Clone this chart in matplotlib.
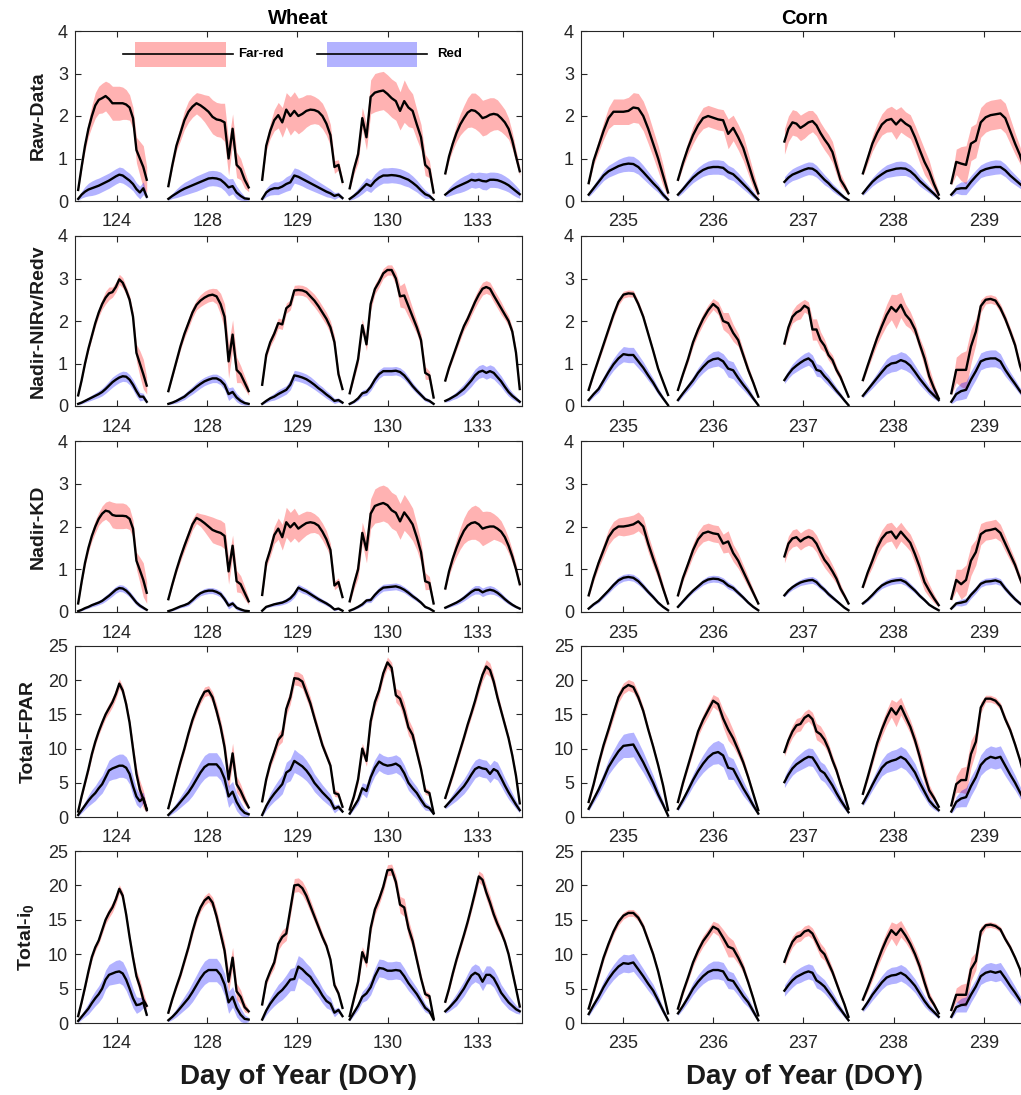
import numpy as np
import matplotlib
matplotlib.use('Agg')
import matplotlib.pyplot as plt
from matplotlib.patches import Rectangle
from matplotlib.lines import Line2D

plt.rcParams['font.family'] = ['Liberation Sans', 'DejaVu Sans']
plt.rcParams['mathtext.fontset'] = 'custom'
plt.rcParams['mathtext.rm'] = 'Liberation Sans'
plt.rcParams['mathtext.bf'] = 'Liberation Sans:bold'

# ---------------- categories / ticks ----------------
WHEAT_DAYS = ['124', '128', '129', '130', '133']
CORN_DAYS = ['235', '236', '237', '238', '239']
# time span covered by each day's record (fraction of a day around the tick)
WHEAT_SPAN = [(-0.43, 0.33), (-0.43, 0.46), (-0.39, 0.50), (-0.42, 0.51), (-0.36, 0.465)]
CORN_SPAN = [(-0.38, 0.50), (-0.39, 0.50), (-0.21, 0.50), (-0.34, 0.50), (-0.36, 0.51)]
YLABELS = ['Raw-Data', 'Nadir-NIRv/Redv', 'Nadir-KD', 'Total-FPAR', r'Total-i$_\mathbf{0}$']
YMAX = [4, 4, 4, 25, 25]
YSTEP = [1, 1, 1, 5, 5]

# ---------------- Wheat: Raw-Data ----------------
W_RAW_FR = [
    [0.26, 0.80, 1.30, 1.70, 2.00, 2.25, 2.38, 2.42, 2.47, 2.40, 2.30, 2.30, 2.30, 2.30, 2.27, 2.20, 1.95, 1.20, 1.00, 0.80, 0.50],
    [0.35, 0.85, 1.30, 1.60, 1.90, 2.10, 2.22, 2.30, 2.25, 2.18, 2.10, 1.98, 1.92, 1.90, 1.85, 1.00, 1.70, 0.85, 0.75, 0.50, 0.32],
    [0.50, 1.30, 1.65, 1.90, 2.02, 1.85, 2.15, 2.00, 2.12, 2.00, 2.05, 2.12, 2.15, 2.14, 2.10, 2.00, 1.82, 1.55, 0.80, 0.85, 0.45],
    [0.30, 0.75, 1.10, 1.95, 1.50, 2.45, 2.55, 2.58, 2.60, 2.52, 2.42, 2.35, 2.12, 2.35, 2.20, 2.12, 1.80, 1.50, 0.85, 0.75, 0.20],
    [0.65, 1.05, 1.35, 1.60, 1.80, 1.95, 2.08, 2.14, 2.12, 2.05, 1.95, 1.98, 2.03, 2.05, 2.03, 1.95, 1.85, 1.70, 1.42, 1.05, 0.70],
]
W_RAW_FR_SD = [
    [0.03, 0.08, 0.12, 0.18, 0.25, 0.30, 0.32, 0.35, 0.35, 0.38, 0.40, 0.40, 0.40, 0.38, 0.35, 0.30, 0.25, 0.30, 0.40, 0.50, 0.30],
    [0.03, 0.08, 0.12, 0.18, 0.22, 0.25, 0.25, 0.25, 0.28, 0.32, 0.38, 0.40, 0.40, 0.40, 0.45, 0.40, 0.35, 0.30, 0.25, 0.20, 0.10],
    [0.05, 0.12, 0.18, 0.25, 0.30, 0.35, 0.40, 0.45, 0.45, 0.42, 0.40, 0.38, 0.35, 0.32, 0.30, 0.30, 0.28, 0.25, 0.15, 0.12, 0.08],
    [0.05, 0.12, 0.20, 0.25, 0.30, 0.40, 0.45, 0.45, 0.45, 0.45, 0.45, 0.45, 0.45, 0.50, 0.45, 0.40, 0.35, 0.30, 0.25, 0.20, 0.10],
    [0.05, 0.10, 0.15, 0.20, 0.25, 0.30, 0.35, 0.40, 0.42, 0.42, 0.42, 0.42, 0.40, 0.38, 0.35, 0.32, 0.30, 0.25, 0.20, 0.15, 0.10],
]
W_RAW_R = [
    [0.05, 0.15, 0.22, 0.27, 0.30, 0.33, 0.36, 0.40, 0.44, 0.48, 0.53, 0.58, 0.62, 0.60, 0.54, 0.48, 0.40, 0.28, 0.20, 0.30, 0.10],
    [0.05, 0.12, 0.18, 0.24, 0.29, 0.33, 0.37, 0.41, 0.45, 0.49, 0.53, 0.54, 0.53, 0.50, 0.42, 0.32, 0.35, 0.20, 0.12, 0.06, 0.05],
    [0.05, 0.20, 0.27, 0.30, 0.30, 0.34, 0.40, 0.44, 0.60, 0.57, 0.52, 0.47, 0.42, 0.37, 0.32, 0.27, 0.22, 0.18, 0.12, 0.15, 0.07],
    [0.05, 0.12, 0.20, 0.30, 0.40, 0.35, 0.47, 0.55, 0.60, 0.60, 0.61, 0.60, 0.58, 0.54, 0.50, 0.43, 0.35, 0.25, 0.16, 0.12, 0.03],
    [0.15, 0.22, 0.28, 0.33, 0.37, 0.41, 0.45, 0.50, 0.48, 0.50, 0.47, 0.46, 0.50, 0.50, 0.49, 0.46, 0.42, 0.37, 0.30, 0.23, 0.16],
]
W_RAW_R_SD = [
    [0.03, 0.08, 0.12, 0.15, 0.17, 0.18, 0.18, 0.18, 0.18, 0.18, 0.18, 0.18, 0.18, 0.18, 0.17, 0.17, 0.16, 0.15, 0.15, 0.15, 0.05],
    [0.03, 0.06, 0.10, 0.13, 0.15, 0.16, 0.17, 0.18, 0.18, 0.18, 0.18, 0.18, 0.18, 0.18, 0.18, 0.20, 0.18, 0.15, 0.10, 0.05, 0.03],
    [0.03, 0.10, 0.13, 0.15, 0.15, 0.15, 0.17, 0.18, 0.18, 0.18, 0.17, 0.17, 0.16, 0.15, 0.14, 0.13, 0.12, 0.10, 0.08, 0.06, 0.04],
    [0.03, 0.07, 0.10, 0.13, 0.15, 0.15, 0.17, 0.18, 0.18, 0.18, 0.18, 0.18, 0.18, 0.18, 0.17, 0.16, 0.14, 0.12, 0.10, 0.06, 0.03],
    [0.05, 0.10, 0.13, 0.15, 0.17, 0.18, 0.18, 0.18, 0.18, 0.18, 0.20, 0.20, 0.18, 0.18, 0.18, 0.18, 0.17, 0.16, 0.15, 0.13, 0.10],
]

# ---------------- Wheat: Nadir-NIRv/Redv ----------------
W_NIR_FR = [
    [0.25, 0.60, 1.00, 1.35, 1.65, 1.95, 2.20, 2.40, 2.55, 2.65, 2.68, 2.80, 2.98, 2.90, 2.72, 2.50, 2.10, 1.25, 1.00, 0.75, 0.48],
    [0.35, 0.70, 1.05, 1.40, 1.70, 1.95, 2.20, 2.38, 2.48, 2.55, 2.60, 2.62, 2.58, 2.40, 2.10, 1.05, 1.68, 0.85, 0.75, 0.55, 0.35],
    [0.50, 1.20, 1.50, 1.70, 1.95, 1.92, 2.30, 2.38, 2.72, 2.73, 2.72, 2.68, 2.58, 2.48, 2.35, 2.20, 2.05, 1.85, 1.50, 0.75, 0.40],
    [0.30, 0.70, 1.10, 1.90, 1.45, 2.40, 2.75, 2.92, 3.12, 3.20, 3.20, 3.00, 2.58, 2.60, 2.35, 2.10, 1.85, 1.55, 0.78, 0.72, 0.20],
    [0.60, 0.90, 1.15, 1.40, 1.65, 1.88, 2.05, 2.25, 2.45, 2.62, 2.76, 2.80, 2.76, 2.60, 2.45, 2.30, 2.15, 2.00, 1.75, 1.25, 0.40],
]
W_NIR_FR_SD = [
    [0.02, 0.03, 0.05, 0.06, 0.07, 0.08, 0.10, 0.12, 0.15, 0.15, 0.12, 0.12, 0.12, 0.12, 0.10, 0.10, 0.12, 0.20, 0.30, 0.35, 0.20],
    [0.02, 0.04, 0.06, 0.08, 0.10, 0.12, 0.12, 0.12, 0.14, 0.15, 0.15, 0.15, 0.18, 0.25, 0.30, 0.40, 0.35, 0.30, 0.20, 0.15, 0.10],
    [0.03, 0.08, 0.10, 0.12, 0.12, 0.12, 0.12, 0.12, 0.12, 0.12, 0.12, 0.12, 0.14, 0.15, 0.15, 0.15, 0.15, 0.15, 0.15, 0.10, 0.05],
    [0.03, 0.08, 0.12, 0.15, 0.15, 0.15, 0.12, 0.12, 0.12, 0.12, 0.12, 0.15, 0.25, 0.30, 0.25, 0.20, 0.15, 0.15, 0.15, 0.10, 0.05],
    [0.03, 0.05, 0.07, 0.08, 0.10, 0.10, 0.12, 0.12, 0.14, 0.15, 0.15, 0.15, 0.15, 0.15, 0.15, 0.15, 0.12, 0.12, 0.10, 0.10, 0.05],
]
W_NIR_R = [
    [0.05, 0.08, 0.12, 0.16, 0.20, 0.24, 0.28, 0.33, 0.40, 0.48, 0.56, 0.62, 0.67, 0.70, 0.69, 0.62, 0.50, 0.35, 0.22, 0.22, 0.10],
    [0.05, 0.08, 0.12, 0.17, 0.22, 0.30, 0.37, 0.45, 0.52, 0.58, 0.62, 0.65, 0.65, 0.60, 0.50, 0.28, 0.33, 0.20, 0.12, 0.07, 0.05],
    [0.05, 0.12, 0.18, 0.22, 0.28, 0.33, 0.38, 0.50, 0.72, 0.70, 0.67, 0.63, 0.57, 0.50, 0.42, 0.35, 0.27, 0.20, 0.12, 0.14, 0.08],
    [0.05, 0.10, 0.18, 0.30, 0.33, 0.45, 0.62, 0.75, 0.82, 0.82, 0.82, 0.83, 0.80, 0.72, 0.60, 0.47, 0.36, 0.26, 0.16, 0.12, 0.05],
    [0.12, 0.16, 0.21, 0.26, 0.33, 0.40, 0.50, 0.60, 0.72, 0.80, 0.83, 0.78, 0.82, 0.78, 0.68, 0.58, 0.45, 0.33, 0.24, 0.17, 0.10],
]
W_NIR_R_SD = [
    [0.02, 0.03, 0.04, 0.05, 0.06, 0.07, 0.08, 0.09, 0.10, 0.11, 0.12, 0.12, 0.12, 0.12, 0.12, 0.12, 0.12, 0.12, 0.10, 0.08, 0.04],
    [0.02, 0.03, 0.05, 0.06, 0.07, 0.08, 0.09, 0.10, 0.10, 0.10, 0.10, 0.10, 0.10, 0.10, 0.12, 0.15, 0.12, 0.10, 0.08, 0.05, 0.03],
    [0.02, 0.04, 0.06, 0.08, 0.10, 0.10, 0.10, 0.12, 0.12, 0.12, 0.12, 0.12, 0.12, 0.11, 0.10, 0.10, 0.09, 0.08, 0.06, 0.05, 0.03],
    [0.02, 0.03, 0.05, 0.07, 0.08, 0.09, 0.10, 0.10, 0.10, 0.10, 0.10, 0.10, 0.10, 0.10, 0.09, 0.08, 0.07, 0.06, 0.05, 0.04, 0.02],
    [0.03, 0.05, 0.06, 0.08, 0.10, 0.12, 0.13, 0.14, 0.15, 0.15, 0.15, 0.15, 0.15, 0.15, 0.14, 0.13, 0.12, 0.10, 0.08, 0.06, 0.04],
]

# ---------------- Wheat: Nadir-KD ----------------
W_KD_FR = [
    [0.20, 0.70, 1.15, 1.50, 1.78, 2.00, 2.18, 2.30, 2.37, 2.35, 2.27, 2.25, 2.25, 2.25, 2.24, 2.18, 1.95, 1.20, 0.98, 0.75, 0.45],
    [0.30, 0.65, 0.98, 1.28, 1.55, 1.80, 2.05, 2.20, 2.15, 2.08, 2.00, 1.92, 1.88, 1.85, 1.78, 0.95, 1.55, 0.72, 0.65, 0.45, 0.25],
    [0.40, 1.15, 1.45, 1.80, 1.95, 1.75, 2.10, 1.98, 2.08, 1.95, 2.02, 2.08, 2.10, 2.08, 2.02, 1.88, 1.70, 1.45, 0.62, 0.70, 0.35],
    [0.25, 0.65, 1.00, 1.85, 1.45, 2.30, 2.48, 2.52, 2.55, 2.50, 2.38, 2.32, 2.12, 2.33, 2.20, 2.05, 1.75, 1.40, 0.72, 0.68, 0.20],
    [0.55, 0.95, 1.25, 1.50, 1.72, 1.90, 2.02, 2.08, 2.10, 2.05, 1.95, 1.98, 2.00, 2.00, 1.95, 1.88, 1.75, 1.55, 1.30, 1.00, 0.65],
]
W_KD_FR_SD = [
    [0.03, 0.06, 0.08, 0.10, 0.12, 0.15, 0.15, 0.18, 0.20, 0.25, 0.30, 0.30, 0.30, 0.30, 0.28, 0.25, 0.20, 0.20, 0.30, 0.40, 0.25],
    [0.02, 0.05, 0.07, 0.10, 0.12, 0.13, 0.13, 0.13, 0.15, 0.20, 0.25, 0.30, 0.30, 0.30, 0.30, 0.30, 0.25, 0.25, 0.20, 0.15, 0.08],
    [0.05, 0.10, 0.15, 0.20, 0.25, 0.30, 0.35, 0.35, 0.35, 0.32, 0.30, 0.28, 0.25, 0.22, 0.20, 0.20, 0.20, 0.15, 0.10, 0.10, 0.05],
    [0.05, 0.12, 0.20, 0.25, 0.30, 0.35, 0.40, 0.42, 0.42, 0.42, 0.42, 0.42, 0.42, 0.42, 0.40, 0.38, 0.30, 0.25, 0.20, 0.15, 0.05],
    [0.05, 0.10, 0.15, 0.20, 0.25, 0.30, 0.35, 0.38, 0.40, 0.40, 0.40, 0.38, 0.35, 0.30, 0.28, 0.25, 0.20, 0.18, 0.15, 0.12, 0.08],
]
W_KD_R = [
    [0.02, 0.05, 0.09, 0.12, 0.16, 0.19, 0.22, 0.26, 0.32, 0.38, 0.45, 0.52, 0.56, 0.55, 0.50, 0.42, 0.32, 0.22, 0.15, 0.10, 0.05],
    [0.02, 0.05, 0.09, 0.13, 0.16, 0.20, 0.28, 0.37, 0.44, 0.48, 0.50, 0.50, 0.47, 0.42, 0.30, 0.15, 0.20, 0.10, 0.06, 0.03, 0.02],
    [0.03, 0.12, 0.15, 0.18, 0.20, 0.22, 0.26, 0.32, 0.42, 0.57, 0.52, 0.48, 0.42, 0.36, 0.30, 0.25, 0.20, 0.14, 0.06, 0.08, 0.03],
    [0.03, 0.07, 0.12, 0.18, 0.27, 0.28, 0.40, 0.50, 0.57, 0.58, 0.59, 0.60, 0.57, 0.52, 0.45, 0.37, 0.30, 0.22, 0.12, 0.08, 0.02],
    [0.10, 0.14, 0.18, 0.22, 0.27, 0.33, 0.40, 0.47, 0.52, 0.52, 0.46, 0.50, 0.52, 0.50, 0.45, 0.38, 0.30, 0.23, 0.17, 0.12, 0.08],
]
W_KD_R_SD = [
    [0.01, 0.02, 0.03, 0.03, 0.04, 0.05, 0.05, 0.06, 0.07, 0.07, 0.08, 0.08, 0.08, 0.08, 0.08, 0.07, 0.07, 0.06, 0.05, 0.04, 0.02],
    [0.01, 0.02, 0.03, 0.03, 0.04, 0.05, 0.05, 0.06, 0.06, 0.07, 0.07, 0.07, 0.07, 0.07, 0.07, 0.08, 0.06, 0.05, 0.04, 0.02, 0.01],
    [0.01, 0.02, 0.03, 0.04, 0.05, 0.05, 0.06, 0.07, 0.08, 0.08, 0.08, 0.07, 0.07, 0.06, 0.06, 0.05, 0.05, 0.04, 0.03, 0.02, 0.01],
    [0.01, 0.02, 0.03, 0.04, 0.05, 0.06, 0.07, 0.08, 0.08, 0.08, 0.08, 0.08, 0.08, 0.07, 0.07, 0.06, 0.05, 0.04, 0.03, 0.02, 0.01],
    [0.02, 0.03, 0.04, 0.05, 0.06, 0.07, 0.08, 0.09, 0.10, 0.10, 0.10, 0.10, 0.10, 0.09, 0.08, 0.07, 0.06, 0.05, 0.04, 0.03, 0.02],
]

# ---------------- Wheat: Total-FPAR ----------------
W_FPAR_FR = [
    [0.8, 3.0, 5.0, 7.0, 9.2, 11.0, 12.5, 13.8, 15.0, 15.9, 16.8, 18.0, 19.5, 18.5, 16.5, 13.8, 10.0, 6.3, 4.0, 2.6, 1.2],
    [1.3, 3.5, 5.8, 8.0, 10.0, 12.2, 14.2, 15.8, 17.2, 18.3, 18.5, 17.5, 15.5, 13.2, 10.2, 5.5, 9.3, 4.8, 3.8, 2.5, 1.4],
    [2.3, 5.5, 7.8, 9.5, 11.3, 12.0, 15.8, 17.5, 20.3, 20.2, 19.8, 18.2, 16.6, 14.5, 12.5, 10.5, 9.0, 7.5, 3.5, 3.3, 1.5],
    [1.1, 3.0, 5.5, 10.0, 8.2, 14.0, 16.8, 18.5, 21.0, 22.6, 21.8, 17.8, 17.3, 15.5, 13.1, 12.0, 9.5, 7.0, 3.8, 3.5, 0.6],
    [2.8, 4.5, 6.2, 8.0, 9.8, 11.6, 13.5, 15.2, 17.0, 19.0, 20.8, 22.0, 21.5, 19.8, 17.5, 15.5, 13.5, 11.5, 9.0, 6.0, 2.0],
]
W_FPAR_FR_SD = [
    [0.2, 0.3, 0.4, 0.5, 0.5, 0.5, 0.5, 0.6, 0.6, 0.7, 0.7, 0.7, 0.7, 0.6, 0.6, 0.6, 0.8, 1.0, 1.3, 1.3, 0.5],
    [0.2, 0.3, 0.4, 0.5, 0.5, 0.5, 0.6, 0.6, 0.6, 0.7, 0.7, 0.8, 1.0, 1.0, 1.2, 1.5, 1.5, 1.2, 1.0, 0.7, 0.3],
    [0.3, 0.5, 0.6, 0.8, 0.9, 1.0, 1.0, 1.0, 1.0, 1.0, 1.0, 1.0, 0.9, 0.8, 0.7, 0.6, 0.5, 0.5, 0.5, 0.4, 0.3],
    [0.2, 0.4, 0.6, 0.8, 0.8, 0.8, 0.8, 0.8, 0.8, 0.8, 0.8, 1.0, 1.2, 1.3, 1.2, 1.0, 0.8, 0.6, 0.5, 0.4, 0.2],
    [0.3, 0.4, 0.5, 0.5, 0.5, 0.5, 0.6, 0.6, 0.7, 0.8, 0.9, 1.0, 1.0, 0.9, 0.8, 0.6, 0.5, 0.5, 0.5, 0.4, 0.3],
]
W_FPAR_R = [
    [0.3, 1.0, 1.7, 2.4, 3.0, 3.5, 4.2, 4.8, 5.8, 6.8, 7.1, 7.3, 7.5, 7.5, 7.2, 6.3, 4.5, 3.0, 2.3, 2.8, 1.0],
    [0.3, 0.9, 1.5, 2.2, 2.9, 3.6, 4.5, 5.5, 6.5, 7.3, 7.7, 7.7, 7.7, 7.0, 5.6, 3.0, 3.7, 2.2, 1.2, 0.6, 0.4],
    [0.3, 1.6, 2.6, 3.4, 4.1, 4.8, 6.5, 6.9, 8.2, 7.8, 7.4, 6.8, 6.0, 5.0, 4.3, 3.6, 3.0, 2.4, 1.2, 1.5, 0.8],
    [0.5, 1.5, 2.5, 4.2, 3.8, 5.8, 7.2, 8.1, 7.7, 7.5, 7.6, 7.8, 7.4, 6.4, 5.0, 4.2, 3.5, 2.5, 1.6, 1.3, 0.5],
    [1.5, 2.1, 2.7, 3.3, 3.9, 4.5, 5.3, 6.2, 7.0, 7.3, 7.1, 7.0, 6.3, 7.0, 6.7, 5.7, 4.6, 3.6, 2.7, 1.8, 1.0],
]
W_FPAR_R_SD = [
    [0.2, 0.4, 0.6, 0.8, 1.0, 1.1, 1.2, 1.3, 1.4, 1.5, 1.6, 1.7, 1.7, 1.7, 1.6, 1.5, 1.4, 1.2, 1.0, 0.8, 0.3],
    [0.2, 0.4, 0.6, 0.8, 1.0, 1.2, 1.4, 1.5, 1.6, 1.7, 1.7, 1.7, 1.7, 1.6, 1.6, 1.6, 1.5, 1.3, 1.0, 0.6, 0.3],
    [0.2, 0.6, 0.9, 1.1, 1.3, 1.4, 1.5, 1.6, 1.7, 1.6, 1.6, 1.5, 1.4, 1.3, 1.2, 1.1, 1.0, 0.9, 0.6, 0.4, 0.2],
    [0.2, 0.4, 0.6, 0.8, 1.0, 1.1, 1.2, 1.3, 1.3, 1.3, 1.3, 1.3, 1.3, 1.2, 1.1, 1.0, 0.9, 0.8, 0.6, 0.4, 0.2],
    [0.3, 0.5, 0.7, 0.9, 1.0, 1.1, 1.2, 1.3, 1.3, 1.3, 1.3, 1.3, 1.3, 1.3, 1.3, 1.2, 1.1, 1.0, 0.8, 0.6, 0.4],
]

# ---------------- Wheat: Total-i0 ----------------
W_I0_FR = [
    [1.0, 3.0, 5.2, 7.5, 9.6, 11.0, 12.0, 13.5, 15.0, 16.0, 16.8, 18.0, 19.5, 18.5, 15.8, 12.5, 9.5, 6.8, 5.3, 3.4, 2.5],
    [1.5, 3.5, 5.3, 7.0, 9.0, 11.0, 13.3, 15.3, 16.8, 17.8, 18.3, 17.5, 15.5, 13.0, 10.5, 6.0, 9.5, 4.6, 3.8, 2.3, 1.7],
    [2.7, 6.0, 7.5, 8.8, 11.5, 12.5, 13.0, 16.5, 20.0, 20.1, 19.6, 18.5, 17.0, 15.5, 14.0, 12.5, 11.2, 9.2, 5.5, 4.3, 2.2],
    [1.0, 3.5, 6.0, 10.3, 8.8, 13.8, 16.5, 18.0, 19.8, 22.2, 22.3, 20.5, 17.2, 16.8, 13.8, 11.9, 9.2, 6.5, 4.2, 3.9, 0.7],
    [3.1, 5.0, 7.2, 9.2, 11.0, 12.8, 14.7, 16.8, 19.0, 21.3, 20.8, 19.0, 17.5, 15.8, 14.4, 13.2, 11.8, 10.0, 7.5, 5.0, 2.4],
]
W_I0_FR_SD = [
    [0.2, 0.3, 0.4, 0.5, 0.5, 0.5, 0.5, 0.6, 0.6, 0.7, 0.7, 0.7, 0.6, 0.6, 0.5, 0.5, 0.6, 0.8, 1.0, 1.0, 0.4],
    [0.2, 0.3, 0.4, 0.5, 0.5, 0.5, 0.6, 0.6, 0.6, 0.7, 0.7, 0.8, 1.0, 1.0, 1.2, 1.5, 1.5, 1.2, 1.0, 0.7, 0.3],
    [0.3, 0.5, 0.6, 0.8, 0.9, 1.0, 1.0, 1.0, 1.0, 1.0, 1.0, 1.0, 0.9, 0.8, 0.7, 0.6, 0.5, 0.5, 0.5, 0.4, 0.3],
    [0.2, 0.4, 0.6, 0.8, 0.8, 0.8, 0.8, 0.8, 0.8, 0.8, 0.8, 1.0, 1.2, 1.3, 1.2, 1.0, 0.8, 0.6, 0.5, 0.4, 0.2],
    [0.3, 0.4, 0.5, 0.5, 0.5, 0.5, 0.6, 0.6, 0.7, 0.8, 0.9, 1.0, 1.0, 0.9, 0.8, 0.6, 0.5, 0.5, 0.5, 0.4, 0.3],
]
W_I0_R = [
    [0.3, 0.9, 1.5, 2.1, 2.9, 3.6, 4.2, 5.0, 6.3, 7.0, 7.2, 7.4, 7.5, 7.2, 6.3, 5.0, 3.6, 2.6, 2.7, 3.0, 1.2],
    [0.4, 0.9, 1.5, 2.2, 2.9, 3.6, 4.5, 5.5, 6.5, 7.3, 7.7, 7.7, 7.7, 7.0, 5.6, 3.0, 3.8, 2.2, 1.2, 0.6, 0.5],
    [0.5, 1.8, 2.8, 3.6, 4.3, 4.8, 5.5, 6.3, 6.4, 8.2, 7.8, 7.2, 6.7, 5.8, 5.0, 4.0, 3.2, 2.8, 1.5, 1.9, 1.0],
    [0.5, 1.5, 2.5, 3.8, 4.3, 5.2, 6.8, 8.0, 7.9, 7.6, 7.6, 7.7, 7.6, 6.8, 5.8, 5.0, 4.2, 3.2, 2.2, 1.7, 0.5],
    [1.7, 2.2, 2.8, 3.4, 4.2, 5.0, 6.0, 6.9, 7.3, 7.0, 6.0, 7.0, 7.0, 6.5, 5.5, 4.4, 3.7, 3.0, 2.5, 2.0, 1.7],
]
W_I0_R_SD = [
    [0.2, 0.4, 0.6, 0.8, 1.0, 1.1, 1.2, 1.3, 1.4, 1.5, 1.6, 1.7, 1.7, 1.7, 1.6, 1.5, 1.4, 1.2, 1.0, 0.8, 0.3],
    [0.2, 0.4, 0.6, 0.8, 1.0, 1.2, 1.4, 1.5, 1.6, 1.7, 1.7, 1.7, 1.7, 1.6, 1.6, 1.6, 1.5, 1.3, 1.0, 0.6, 0.3],
    [0.2, 0.6, 0.9, 1.1, 1.3, 1.4, 1.5, 1.6, 1.7, 1.6, 1.6, 1.5, 1.4, 1.3, 1.2, 1.1, 1.0, 0.9, 0.6, 0.4, 0.2],
    [0.2, 0.4, 0.6, 0.8, 1.0, 1.1, 1.2, 1.3, 1.3, 1.3, 1.3, 1.3, 1.3, 1.2, 1.1, 1.0, 0.9, 0.8, 0.6, 0.4, 0.2],
    [0.3, 0.5, 0.7, 0.9, 1.0, 1.1, 1.2, 1.3, 1.3, 1.3, 1.3, 1.3, 1.3, 1.3, 1.3, 1.2, 1.1, 1.0, 0.8, 0.6, 0.4],
]

# ---------------- Corn: Raw-Data ----------------
C_RAW_FR = [
    [0.42, 0.95, 1.30, 1.65, 1.95, 2.10, 2.10, 2.10, 2.12, 2.20, 2.18, 2.00, 1.70, 1.35, 1.00, 0.60, 0.20],
    [0.50, 0.90, 1.25, 1.55, 1.78, 1.95, 2.00, 1.96, 1.92, 1.90, 1.58, 1.72, 1.50, 1.25, 0.88, 0.50, 0.18],
    [1.40, 1.70, 1.85, 1.82, 1.72, 1.78, 1.85, 1.88, 1.78, 1.60, 1.45, 1.32, 1.15, 0.82, 0.50, 0.35, 0.18],
    [0.65, 1.00, 1.35, 1.60, 1.80, 1.90, 1.93, 1.80, 1.92, 1.82, 1.75, 1.50, 1.20, 0.92, 0.70, 0.40, 0.15],
    [0.42, 0.92, 0.88, 0.85, 1.35, 1.42, 1.85, 1.97, 2.02, 2.04, 2.06, 1.95, 1.65, 1.35, 1.08, 0.70, 0.35],
]
C_RAW_FR_SD = [
    [0.05, 0.10, 0.15, 0.20, 0.25, 0.30, 0.30, 0.30, 0.32, 0.35, 0.35, 0.35, 0.35, 0.32, 0.30, 0.25, 0.10],
    [0.05, 0.10, 0.15, 0.20, 0.22, 0.25, 0.25, 0.25, 0.25, 0.25, 0.35, 0.30, 0.30, 0.30, 0.25, 0.20, 0.10],
    [0.30, 0.30, 0.30, 0.30, 0.30, 0.30, 0.28, 0.25, 0.25, 0.25, 0.25, 0.25, 0.25, 0.20, 0.15, 0.10, 0.05],
    [0.05, 0.12, 0.18, 0.22, 0.25, 0.28, 0.30, 0.35, 0.30, 0.28, 0.28, 0.28, 0.30, 0.30, 0.25, 0.15, 0.08],
    [0.05, 0.30, 0.40, 0.45, 0.40, 0.40, 0.35, 0.35, 0.35, 0.35, 0.35, 0.35, 0.30, 0.25, 0.20, 0.15, 0.10],
]
C_RAW_R = [
    [0.15, 0.30, 0.45, 0.60, 0.70, 0.76, 0.82, 0.86, 0.88, 0.87, 0.80, 0.68, 0.55, 0.42, 0.30, 0.15, 0.03],
    [0.15, 0.28, 0.42, 0.55, 0.65, 0.73, 0.78, 0.80, 0.80, 0.78, 0.68, 0.63, 0.52, 0.40, 0.28, 0.15, 0.03],
    [0.45, 0.55, 0.62, 0.66, 0.70, 0.74, 0.77, 0.76, 0.70, 0.60, 0.50, 0.42, 0.32, 0.24, 0.16, 0.08, 0.02],
    [0.18, 0.32, 0.45, 0.55, 0.63, 0.70, 0.73, 0.76, 0.77, 0.76, 0.70, 0.60, 0.47, 0.37, 0.27, 0.17, 0.06],
    [0.15, 0.28, 0.30, 0.30, 0.45, 0.58, 0.70, 0.75, 0.78, 0.80, 0.80, 0.72, 0.60, 0.50, 0.40, 0.30, 0.20],
]
C_RAW_R_SD = [
    [0.05, 0.08, 0.10, 0.12, 0.14, 0.15, 0.16, 0.17, 0.18, 0.18, 0.17, 0.16, 0.14, 0.12, 0.10, 0.08, 0.05],
    [0.05, 0.08, 0.10, 0.12, 0.14, 0.15, 0.16, 0.17, 0.17, 0.17, 0.16, 0.15, 0.14, 0.12, 0.10, 0.08, 0.04],
    [0.12, 0.13, 0.14, 0.15, 0.15, 0.15, 0.15, 0.15, 0.14, 0.13, 0.12, 0.10, 0.09, 0.08, 0.06, 0.04, 0.02],
    [0.05, 0.08, 0.10, 0.12, 0.14, 0.15, 0.16, 0.17, 0.17, 0.16, 0.15, 0.14, 0.12, 0.10, 0.08, 0.06, 0.03],
    [0.05, 0.10, 0.15, 0.15, 0.15, 0.15, 0.15, 0.16, 0.17, 0.17, 0.16, 0.15, 0.14, 0.12, 0.10, 0.08, 0.05],
]

# ---------------- Corn: Nadir-NIRv/Redv ----------------
C_NIR_FR = [
    [0.38, 0.75, 1.10, 1.45, 1.80, 2.15, 2.45, 2.62, 2.65, 2.64, 2.40, 2.10, 1.70, 1.30, 0.88, 0.57, 0.26],
    [0.38, 0.75, 1.10, 1.50, 1.80, 2.05, 2.25, 2.40, 2.30, 2.00, 1.95, 1.72, 1.55, 1.20, 0.85, 0.55, 0.22],
    [1.47, 1.85, 2.10, 2.20, 2.25, 2.36, 2.30, 1.80, 1.80, 1.55, 1.42, 1.20, 1.08, 0.85, 0.68, 0.45, 0.22],
    [0.61, 0.95, 1.28, 1.60, 1.88, 2.14, 2.33, 2.22, 2.38, 2.15, 2.02, 1.80, 1.45, 1.12, 0.70, 0.42, 0.18],
    [0.30, 0.85, 0.85, 0.85, 1.40, 1.75, 2.35, 2.50, 2.52, 2.48, 2.30, 2.05, 1.75, 1.43, 0.95, 0.60, 0.30],
]
C_NIR_FR_SD = [
    [0.03, 0.05, 0.06, 0.08, 0.08, 0.08, 0.08, 0.08, 0.08, 0.08, 0.08, 0.07, 0.06, 0.05, 0.04, 0.03, 0.02],
    [0.03, 0.05, 0.08, 0.10, 0.12, 0.13, 0.13, 0.13, 0.15, 0.20, 0.25, 0.20, 0.15, 0.12, 0.10, 0.06, 0.03],
    [0.08, 0.12, 0.15, 0.18, 0.20, 0.15, 0.15, 0.25, 0.25, 0.20, 0.15, 0.12, 0.12, 0.10, 0.08, 0.05, 0.03],
    [0.05, 0.08, 0.12, 0.15, 0.20, 0.25, 0.30, 0.40, 0.30, 0.25, 0.20, 0.15, 0.15, 0.20, 0.20, 0.12, 0.05],
    [0.05, 0.30, 0.40, 0.45, 0.40, 0.30, 0.15, 0.10, 0.10, 0.10, 0.10, 0.10, 0.10, 0.10, 0.10, 0.08, 0.05],
]
C_NIR_R = [
    [0.14, 0.28, 0.40, 0.60, 0.80, 0.98, 1.12, 1.22, 1.20, 1.20, 1.05, 0.90, 0.72, 0.55, 0.35, 0.18, 0.02],
    [0.14, 0.30, 0.45, 0.60, 0.78, 0.92, 1.04, 1.10, 1.12, 1.05, 0.88, 0.84, 0.66, 0.50, 0.35, 0.18, 0.02],
    [0.61, 0.75, 0.87, 0.95, 1.02, 1.08, 1.12, 1.04, 0.85, 0.82, 0.70, 0.60, 0.48, 0.36, 0.25, 0.13, 0.02],
    [0.24, 0.38, 0.52, 0.66, 0.80, 0.93, 1.00, 1.02, 1.08, 1.04, 0.95, 0.80, 0.64, 0.50, 0.36, 0.25, 0.14],
    [0.10, 0.28, 0.35, 0.38, 0.62, 0.82, 1.05, 1.10, 1.12, 1.12, 1.05, 0.85, 0.68, 0.52, 0.35, 0.20, 0.08],
]
C_NIR_R_SD = [
    [0.04, 0.06, 0.08, 0.10, 0.12, 0.14, 0.16, 0.18, 0.18, 0.18, 0.16, 0.14, 0.12, 0.10, 0.08, 0.05, 0.02],
    [0.04, 0.06, 0.08, 0.10, 0.12, 0.14, 0.16, 0.18, 0.18, 0.18, 0.20, 0.20, 0.16, 0.12, 0.10, 0.06, 0.02],
    [0.08, 0.10, 0.12, 0.14, 0.15, 0.16, 0.16, 0.16, 0.15, 0.14, 0.13, 0.12, 0.10, 0.08, 0.06, 0.04, 0.02],
    [0.05, 0.07, 0.10, 0.12, 0.15, 0.18, 0.20, 0.20, 0.20, 0.20, 0.18, 0.16, 0.14, 0.12, 0.10, 0.08, 0.04],
    [0.05, 0.15, 0.20, 0.20, 0.20, 0.20, 0.20, 0.20, 0.20, 0.20, 0.18, 0.15, 0.12, 0.10, 0.08, 0.06, 0.04],
]

# ---------------- Corn: Nadir-KD ----------------
C_KD_FR = [
    [0.39, 0.80, 1.15, 1.45, 1.75, 1.92, 2.00, 2.00, 2.02, 2.05, 2.12, 2.00, 1.60, 1.25, 0.92, 0.55, 0.20],
    [0.39, 0.80, 1.12, 1.45, 1.70, 1.84, 1.88, 1.84, 1.82, 1.60, 1.65, 1.38, 1.20, 0.95, 0.70, 0.45, 0.20],
    [1.30, 1.60, 1.72, 1.75, 1.65, 1.72, 1.76, 1.72, 1.60, 1.40, 1.22, 1.10, 0.95, 0.78, 0.55, 0.38, 0.20],
    [0.59, 0.92, 1.20, 1.50, 1.72, 1.85, 1.88, 1.72, 1.88, 1.75, 1.62, 1.35, 1.05, 0.70, 0.50, 0.32, 0.16],
    [0.31, 0.75, 0.65, 0.75, 1.20, 1.40, 1.82, 1.90, 1.92, 1.95, 1.85, 1.60, 1.35, 1.10, 0.78, 0.50, 0.25],
]
C_KD_FR_SD = [
    [0.05, 0.08, 0.12, 0.15, 0.18, 0.20, 0.20, 0.22, 0.22, 0.22, 0.22, 0.22, 0.20, 0.18, 0.15, 0.10, 0.05],
    [0.05, 0.08, 0.12, 0.15, 0.18, 0.20, 0.20, 0.20, 0.20, 0.22, 0.25, 0.20, 0.18, 0.15, 0.12, 0.08, 0.04],
    [0.15, 0.18, 0.20, 0.20, 0.20, 0.20, 0.20, 0.20, 0.20, 0.20, 0.18, 0.18, 0.15, 0.12, 0.10, 0.06, 0.04],
    [0.05, 0.10, 0.15, 0.18, 0.20, 0.22, 0.22, 0.25, 0.22, 0.20, 0.20, 0.22, 0.25, 0.20, 0.15, 0.10, 0.05],
    [0.05, 0.25, 0.35, 0.35, 0.35, 0.30, 0.25, 0.22, 0.22, 0.22, 0.20, 0.18, 0.15, 0.12, 0.10, 0.08, 0.05],
]
C_KD_R = [
    [0.08, 0.18, 0.26, 0.38, 0.50, 0.63, 0.74, 0.80, 0.82, 0.80, 0.72, 0.60, 0.47, 0.35, 0.22, 0.12, 0.04],
    [0.12, 0.25, 0.38, 0.50, 0.60, 0.70, 0.76, 0.78, 0.77, 0.72, 0.62, 0.56, 0.45, 0.34, 0.22, 0.12, 0.04],
    [0.39, 0.50, 0.58, 0.64, 0.69, 0.72, 0.74, 0.75, 0.70, 0.60, 0.52, 0.42, 0.34, 0.26, 0.18, 0.10, 0.04],
    [0.20, 0.29, 0.40, 0.52, 0.62, 0.68, 0.72, 0.74, 0.75, 0.70, 0.60, 0.50, 0.38, 0.28, 0.17, 0.10, 0.04],
    [0.08, 0.20, 0.22, 0.25, 0.40, 0.52, 0.66, 0.71, 0.72, 0.74, 0.70, 0.55, 0.42, 0.30, 0.20, 0.13, 0.06],
]
C_KD_R_SD = [
    [0.02, 0.03, 0.04, 0.05, 0.06, 0.07, 0.08, 0.08, 0.08, 0.08, 0.08, 0.07, 0.06, 0.05, 0.04, 0.03, 0.02],
    [0.02, 0.03, 0.04, 0.05, 0.06, 0.07, 0.08, 0.08, 0.08, 0.08, 0.08, 0.07, 0.06, 0.05, 0.04, 0.03, 0.02],
    [0.04, 0.05, 0.06, 0.07, 0.07, 0.08, 0.08, 0.08, 0.08, 0.07, 0.06, 0.06, 0.05, 0.04, 0.03, 0.02, 0.01],
    [0.03, 0.04, 0.05, 0.06, 0.07, 0.08, 0.08, 0.08, 0.08, 0.08, 0.07, 0.06, 0.05, 0.04, 0.03, 0.02, 0.01],
    [0.02, 0.05, 0.08, 0.08, 0.08, 0.08, 0.08, 0.08, 0.08, 0.08, 0.08, 0.07, 0.06, 0.05, 0.04, 0.03, 0.02],
]

# ---------------- Corn: Total-FPAR ----------------
C_FPAR_FR = [
    [2.2, 4.8, 7.8, 10.5, 12.8, 15.2, 17.5, 18.8, 19.3, 19.0, 17.5, 15.5, 12.8, 10.3, 7.6, 4.6, 1.0],
    [2.2, 5.0, 7.5, 10.0, 12.5, 14.2, 15.6, 17.0, 16.5, 14.4, 12.8, 11.5, 9.8, 8.0, 5.8, 3.4, 1.0],
    [9.5, 11.2, 12.5, 13.4, 13.6, 14.5, 14.9, 14.3, 12.5, 12.1, 11.3, 10.0, 8.3, 6.8, 4.9, 3.2, 1.2],
    [3.4, 5.8, 8.3, 10.8, 12.8, 14.5, 15.9, 15.0, 16.2, 14.7, 13.2, 11.2, 8.8, 6.1, 3.9, 2.8, 1.5],
    [1.7, 4.8, 5.4, 5.4, 9.2, 11.0, 16.0, 17.3, 17.3, 17.0, 16.2, 14.3, 12.7, 10.6, 8.3, 5.6, 3.0],
]
C_FPAR_FR_SD = [
    [0.3, 0.4, 0.5, 0.6, 0.7, 0.8, 0.8, 0.8, 0.8, 0.8, 0.7, 0.6, 0.5, 0.4, 0.3, 0.3, 0.2],
    [0.3, 0.4, 0.5, 0.6, 0.7, 0.8, 0.9, 0.9, 1.0, 1.3, 1.6, 1.2, 0.9, 0.7, 0.5, 0.3, 0.2],
    [0.6, 0.8, 0.9, 1.0, 1.0, 0.9, 0.9, 1.0, 1.2, 1.2, 1.0, 0.8, 0.7, 0.6, 0.5, 0.3, 0.2],
    [0.3, 0.5, 0.7, 0.8, 1.0, 1.1, 1.3, 1.8, 1.3, 1.1, 1.0, 1.0, 1.2, 1.2, 0.8, 0.5, 0.2],
    [0.3, 1.2, 1.8, 2.0, 2.0, 1.5, 0.8, 0.5, 0.5, 0.5, 0.5, 0.5, 0.5, 0.4, 0.4, 0.3, 0.2],
]
C_FPAR_R = [
    [1.2, 2.6, 4.0, 5.6, 7.3, 8.5, 9.6, 10.4, 10.5, 10.6, 9.3, 8.0, 6.5, 5.0, 3.3, 1.8, 0.2],
    [1.2, 2.5, 3.9, 5.4, 6.7, 7.8, 8.7, 9.3, 9.5, 9.0, 7.2, 7.0, 5.6, 4.2, 3.0, 1.7, 0.5],
    [5.1, 6.2, 7.1, 7.7, 8.1, 8.5, 8.8, 8.7, 7.8, 6.8, 6.4, 5.5, 4.6, 3.5, 2.5, 1.6, 0.7],
    [2.0, 3.3, 4.7, 6.0, 7.2, 7.9, 8.2, 8.4, 8.8, 8.4, 7.5, 6.5, 5.0, 3.7, 2.4, 1.6, 1.0],
    [0.8, 2.2, 2.7, 2.9, 4.5, 5.8, 7.6, 8.4, 8.8, 8.6, 8.8, 7.5, 6.2, 5.0, 3.6, 2.2, 1.0],
]
C_FPAR_R_SD = [
    [0.3, 0.5, 0.7, 0.9, 1.1, 1.3, 1.5, 1.7, 1.8, 1.8, 1.7, 1.5, 1.3, 1.1, 0.8, 0.5, 0.2],
    [0.3, 0.5, 0.7, 0.9, 1.1, 1.3, 1.5, 1.6, 1.7, 1.7, 1.7, 1.5, 1.3, 1.1, 0.8, 0.5, 0.2],
    [0.8, 0.9, 1.0, 1.1, 1.2, 1.3, 1.3, 1.3, 1.3, 1.3, 1.3, 1.2, 1.1, 0.9, 0.7, 0.5, 0.3],
    [0.4, 0.6, 0.8, 1.0, 1.2, 1.4, 1.5, 1.5, 1.5, 1.5, 1.4, 1.3, 1.1, 0.9, 0.7, 0.5, 0.3],
    [0.3, 0.8, 1.2, 1.4, 1.4, 1.4, 1.5, 1.6, 1.6, 1.6, 1.6, 1.5, 1.3, 1.1, 0.9, 0.6, 0.3],
]

# ---------------- Corn: Total-i0 ----------------
C_I0_FR = [
    [2.1, 4.5, 7.0, 9.5, 11.5, 13.3, 14.7, 15.6, 16.0, 16.0, 15.3, 14.0, 12.0, 10.0, 7.5, 4.5, 1.4],
    [2.1, 4.5, 6.6, 8.8, 10.5, 11.9, 12.9, 14.0, 13.6, 12.4, 11.1, 10.8, 9.5, 8.0, 5.9, 3.6, 1.1],
    [8.9, 10.5, 11.8, 12.5, 12.7, 13.3, 13.5, 13.0, 11.8, 10.6, 10.0, 8.7, 7.4, 5.8, 4.2, 2.7, 0.9],
    [3.4, 5.1, 6.9, 8.8, 10.6, 12.2, 13.5, 12.8, 13.7, 12.7, 11.5, 10.0, 8.2, 5.9, 3.8, 2.7, 1.4],
    [1.9, 4.1, 4.1, 4.1, 7.8, 9.0, 13.3, 14.2, 14.3, 14.1, 13.6, 12.2, 11.0, 9.5, 7.8, 5.0, 2.5],
]
C_I0_FR_SD = [
    [0.3, 0.4, 0.5, 0.5, 0.5, 0.5, 0.5, 0.5, 0.5, 0.5, 0.5, 0.5, 0.5, 0.4, 0.3, 0.3, 0.2],
    [0.3, 0.4, 0.5, 0.6, 0.7, 0.8, 0.8, 0.8, 0.9, 1.2, 1.5, 1.2, 0.9, 0.7, 0.5, 0.3, 0.2],
    [0.5, 0.7, 0.8, 0.8, 0.8, 0.8, 0.8, 0.8, 0.9, 1.0, 0.9, 0.8, 0.6, 0.5, 0.4, 0.3, 0.2],
    [0.3, 0.5, 0.7, 0.8, 1.0, 1.1, 1.2, 1.6, 1.2, 1.0, 0.9, 0.9, 1.0, 1.0, 0.7, 0.4, 0.2],
    [0.3, 1.0, 1.5, 1.7, 1.7, 1.3, 0.7, 0.4, 0.4, 0.4, 0.4, 0.4, 0.4, 0.3, 0.3, 0.3, 0.2],
]
C_I0_R = [
    [1.3, 2.6, 3.8, 5.2, 6.4, 7.4, 8.2, 8.7, 8.6, 8.8, 7.8, 6.8, 5.7, 4.7, 3.3, 1.8, 0.4],
    [1.4, 2.5, 3.7, 5.0, 6.0, 6.8, 7.4, 7.7, 7.7, 7.5, 6.3, 6.1, 5.0, 3.9, 3.0, 1.7, 0.4],
    [4.7, 5.5, 6.2, 6.7, 7.0, 7.3, 7.5, 7.3, 6.2, 5.8, 5.3, 4.5, 3.7, 2.8, 2.0, 1.2, 0.4],
    [2.0, 3.0, 4.1, 5.0, 5.9, 6.6, 6.9, 7.0, 7.3, 6.9, 6.2, 5.4, 4.3, 3.2, 2.3, 1.6, 0.9],
    [0.9, 2.3, 2.6, 2.7, 4.1, 5.3, 6.8, 7.3, 7.5, 7.3, 7.5, 6.5, 5.4, 4.4, 3.3, 2.2, 1.0],
]
C_I0_R_SD = [
    [0.3, 0.5, 0.7, 0.9, 1.0, 1.1, 1.2, 1.3, 1.3, 1.3, 1.2, 1.1, 1.0, 0.9, 0.7, 0.5, 0.2],
    [0.3, 0.5, 0.7, 0.9, 1.0, 1.1, 1.2, 1.3, 1.3, 1.3, 1.3, 1.2, 1.0, 0.9, 0.7, 0.5, 0.2],
    [0.8, 0.9, 1.0, 1.0, 1.1, 1.1, 1.1, 1.1, 1.1, 1.0, 1.0, 0.9, 0.8, 0.7, 0.5, 0.4, 0.2],
    [0.4, 0.6, 0.8, 0.9, 1.0, 1.1, 1.2, 1.2, 1.2, 1.2, 1.1, 1.0, 0.9, 0.8, 0.6, 0.4, 0.3],
    [0.3, 0.7, 1.0, 1.1, 1.1, 1.1, 1.2, 1.3, 1.3, 1.3, 1.3, 1.2, 1.1, 0.9, 0.7, 0.5, 0.3],
]

WHEAT_ROWS = [
    (W_RAW_FR, W_RAW_FR_SD, W_RAW_R, W_RAW_R_SD),
    (W_NIR_FR, W_NIR_FR_SD, W_NIR_R, W_NIR_R_SD),
    (W_KD_FR, W_KD_FR_SD, W_KD_R, W_KD_R_SD),
    (W_FPAR_FR, W_FPAR_FR_SD, W_FPAR_R, W_FPAR_R_SD),
    (W_I0_FR, W_I0_FR_SD, W_I0_R, W_I0_R_SD),
]
CORN_ROWS = [
    (C_RAW_FR, C_RAW_FR_SD, C_RAW_R, C_RAW_R_SD),
    (C_NIR_FR, C_NIR_FR_SD, C_NIR_R, C_NIR_R_SD),
    (C_KD_FR, C_KD_FR_SD, C_KD_R, C_KD_R_SD),
    (C_FPAR_FR, C_FPAR_FR_SD, C_FPAR_R, C_FPAR_R_SD),
    (C_I0_FR, C_I0_FR_SD, C_I0_R, C_I0_R_SD),
]

# ---------------- layout ----------------
FW, FH = 1021.0, 1095.0
fig = plt.figure(figsize=(FW / 100, FH / 100), dpi=100)
ROW_PX = [(31, 201), (236, 406), (441, 612), (646, 817), (851, 1023)]
COL_PX = [(75, 522), (581, 1028)]
AX_COLOR = '#262626'


def make_axes(col, row):
    x0, x1 = COL_PX[col]
    y0, y1 = ROW_PX[row]
    return fig.add_axes([x0 / FW, 1 - y1 / FH, (x1 - x0) / FW, (y1 - y0) / FH])


def draw_panel(ax, data, spans, days, ymax, ystep):
    fr, fr_sd, rd, rd_sd = data
    lines = []
    for k in range(len(days)):
        for mean, sd, col in ((fr[k], fr_sd[k], (1.0, 0.0, 0.0)), (rd[k], rd_sd[k], (0.0, 0.0, 1.0))):
            m = np.asarray(mean, float)
            s = np.asarray(sd, float)
            x = k + np.linspace(spans[k][0], spans[k][1], len(m))
            ax.fill_between(x, np.clip(m - s, 0, None), m + s, color=col, alpha=0.3, lw=0)
            lines.append((x, m))
    for x, m in lines:
        ax.plot(x, m, color='black', lw=1.7, solid_joinstyle='round')
    ax.set_xlim(-0.465, 4.49)
    ax.set_ylim(0, ymax)
    ax.set_xticks(range(len(days)))
    ax.set_xticklabels(days)
    ax.set_yticks(np.arange(0, ymax + 0.01, ystep))
    ax.tick_params(direction='in', top=True, right=True, length=4, width=0.8,
                   colors=AX_COLOR, labelsize=13)
    ax.tick_params(axis='x', pad=9)
    ax.tick_params(axis='y', pad=5)
    for sp in ax.spines.values():
        sp.set_color(AX_COLOR)
        sp.set_linewidth(0.8)


axes = [[None, None] for _ in range(5)]
for r in range(5):
    for c in range(2):
        ax = make_axes(c, r)
        axes[r][c] = ax
        if c == 0:
            draw_panel(ax, WHEAT_ROWS[r], WHEAT_SPAN, WHEAT_DAYS, YMAX[r], YSTEP[r])
            ax.set_ylabel(YLABELS[r], fontsize=14, fontweight='bold', color='#1a1a1a', labelpad=8)
        else:
            draw_panel(ax, CORN_ROWS[r], CORN_SPAN, CORN_DAYS, YMAX[r], YSTEP[r])

axes[0][0].set_title('Wheat', fontsize=14.5, fontweight='bold', pad=5)
axes[0][1].set_title('Corn', fontsize=14.5, fontweight='bold', pad=5)

for c in range(2):
    x0, x1 = COL_PX[c]
    fig.text((x0 + x1) / 2 / FW, 1 - 1077 / FH, 'Day of Year (DOY)', ha='center', va='center',
             fontsize=20, fontweight='bold', color='#1a1a1a')

# legend (first panel)
lax = axes[0][0]
for (px0, px1, lx0, lx1, tx, col, lab) in [
        (0.134, 0.338, 0.107, 0.353, 0.365, (1.0, 0.0, 0.0), 'Far-red'),
        (0.564, 0.765, 0.541, 0.787, 0.810, (0.0, 0.0, 1.0), 'Red')]:
    lax.add_patch(Rectangle((px0, 0.788), px1 - px0, 0.147, transform=lax.transAxes,
                            facecolor=col, alpha=0.3, lw=0))
    lax.add_line(Line2D([lx0, lx1], [0.866, 0.866], transform=lax.transAxes, color='black', lw=1.2))
    lax.text(tx, 0.866, lab, transform=lax.transAxes, fontsize=9.5, fontweight='bold', va='center')

fig.savefig('out.png', dpi=100)
